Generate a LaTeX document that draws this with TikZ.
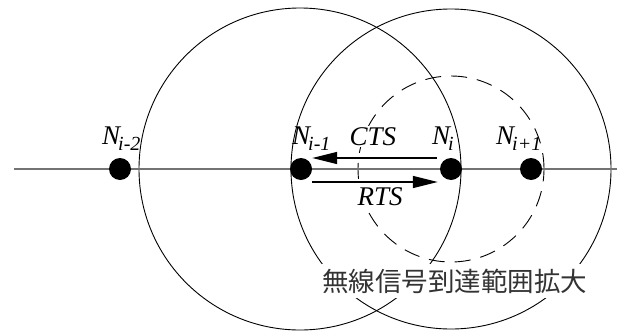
\documentclass[tikz,border=0pt]{standalone}
\usepackage{fontspec}
\setmainfont{Liberation Serif}
\newfontfamily\cjk{Noto Sans CJK JP}
\usetikzlibrary{arrows.meta}
\newcommand{\NodeLab}[1]{\itshape N\kern-2pt\raisebox{-6pt}{\fontsize{20}{20}\selectfont #1}}
\tikzset{
  rangecirc/.style={line width=0.9pt, draw=black},
  dashrangecirc/.style={line width=0.9pt, draw=black, dash pattern=on 16pt off 10pt},
  axisline/.style={line width=1.8pt, draw=black!55},
  station/.style={circle, fill=black, minimum size=22pt, inner sep=0pt},
  msgarrow/.style={line width=1.4pt, -{Triangle[length=25pt,width=12pt]}},
  nlab/.style={anchor=base west, inner sep=0pt, font=\fontsize{27}{27}\selectfont},
  mlab/.style={anchor=base west, inner sep=1.5pt, fill=white, font=\fontsize{27}{27}\selectfont\itshape},
  cjklab/.style={inner ysep=5pt, inner xsep=1pt, fill=white, text=black!80, font=\fontsize{26.5}{26.5}\selectfont\cjk}
}
\begin{document}
\begin{tikzpicture}[x=1pt,y=-1pt]
\useasboundingbox (0,0) rectangle (617,332);
% range circles
\draw[rangecirc] (300,169) circle[radius=161pt];
\draw[rangecirc] (451,169) circle[radius=160pt];
\draw[dashrangecirc] (451,169) circle[radius=93pt];
% axis
\coordinate (L) at (14,169);
\coordinate (R) at (617,169);
\draw[axisline] (L) -- (R);
% stations
\node[station] (nim2) at (120,169) {};
\node[station] (nim1) at (301,169) {};
\node[station] (ni) at (451,169) {};
\node[station] (nip1) at (531,169) {};
% labels
\node[nlab] (lim2) at (102,144) {\NodeLab{i-2}};
\node[nlab] (lim1) at (292,144) {\NodeLab{i-1}};
\node[nlab] (li) at (432,144) {\NodeLab{i}};
\node[nlab] (lip1) at (496,144) {\NodeLab{i+1}};
% messages
\draw[msgarrow] ([shift={(-3,-11)}]ni.west) -- ([shift={(0,-11)}]nim1.east);
\draw[msgarrow] ([shift={(0,13)}]nim1.east) -- ([shift={(-2,13)}]ni.west);
\node[mlab] (cts) at (348,145) {CTS};
\node[mlab] (rts) at (356,205) {RTS};
\node[cjklab] (ext) at (454.5,281) {無線信号到達範囲拡大};
\end{tikzpicture}
\end{document}
